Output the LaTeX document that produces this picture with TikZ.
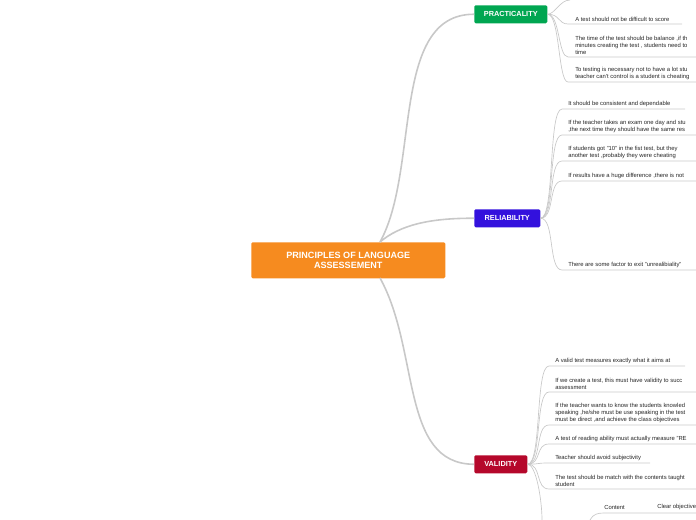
\documentclass[tikz,border=0pt]{standalone}
\usepackage{fontspec}
\setmainfont{Liberation Sans}
\definecolor{orangec}{HTML}{F68B1F}
\definecolor{greenc}{HTML}{00A651}
\definecolor{bluec}{HTML}{3311DD}
\definecolor{redc}{HTML}{B5082B}
\definecolor{linec}{HTML}{C8C8C8}
\tikzset{
  topic/.style={fill=#1, text=white, font=\fontsize{5.5}{6}\selectfont\bfseries, rounded corners=1pt, inner sep=0pt, anchor=north west},
  leaf/.style={font=\fontsize{4.4}{5.3}\selectfont, align=left, anchor=south west, inner sep=0pt, text=black!85},
  branch/.style={draw=linec, line width=0.5pt},
}
\begin{document}
\begin{tikzpicture}[x=0.75pt,y=-0.75pt]
\useasboundingbox (0,0) rectangle (696,520);
\node[fill=orangec, text=white, font=\fontsize{6.8}{8}\selectfont\bfseries, align=center, minimum width=194*0.75pt, minimum height=36*0.75pt, inner sep=0pt, anchor=north west, rounded corners=1pt] (root) at (251,242) {PRINCIPLES OF LANGUAGE\\ ASSESSEMENT};
\node[topic=greenc, minimum width=73*0.75pt, minimum height=18*0.75pt] (prac) at (474,5) {PRACTICALITY};
\node[topic=bluec, minimum width=66*0.75pt, minimum height=18*0.75pt] (rel) at (474,209) {RELIABILITY};
\node[topic=redc, minimum width=53*0.75pt, minimum height=18*0.75pt] (val) at (474,455) {VALIDITY};
% main branches
\draw[branch, line width=1.2pt] (380,242) .. controls (420,170) and (390,14) .. (prac.west);
\draw[branch, line width=1.2pt] (380,242) .. controls (400,225) and (430,218) .. (rel.west);
\draw[branch, line width=1.2pt] (380,278) .. controls (420,350) and (400,464) .. (val.west);
% practicality
\coordinate (p0) at (570,0);
\draw[branch] (prac.east) .. controls (555,14) and (560,0) .. (p0);
\node[leaf] (p1) at (575,22) {A test should not be difficult to score};
\node[leaf] (p2) at (575,55) {The time of the test should be balance ,if th\\minutes creating the test , students need to\\time};
\node[leaf] (p3) at (575,80) {To testing is necessary not to have a lot stu\\teacher can't control is a student is cheating};
\foreach \n/\y/\e in {p1/24/682,p2/57/696,p3/82/696}{
  \draw[branch] (prac.east) .. controls (560,14) and (558,\y) .. (568,\y) -- (\e,\y);
}
% reliability
\node[leaf] (r1) at (568,107) {It should be consistent  and dependable};
\node[leaf] (r2) at (568,133) {If the teacher takes an exam one day and stu\\,the next time they should have the same res};
\node[leaf] (r3) at (568,159) {If students got  "10" in the fist test, but  they\\another test ,probably they were cheating};
\node[leaf] (r4) at (568,179) {If results have a huge difference ,there is not};
\node[leaf] (r5) at (568,268) {There are some factor to exit "unrealibiality"};
\foreach \n/\y/\e in {r1/109/685,r2/135/696,r3/161/696,r4/181/696,r5/270/696}{
  \draw[branch] (rel.east) .. controls (555,218) and (548,\y) .. (562,\y) -- (\e,\y);
}
% validity
\node[leaf] (v1) at (555,364) {A valid test measures exactly what it aims at};
\node[leaf] (v2) at (555,390) {If we create a test, this must have validity to succ\\assessment};
\node[leaf] (v3) at (555,423) {If the teacher wants to know the students knowled\\speaking ,he/she must be use speaking in the test\\must be direct ,and achieve the class objectives};
\node[leaf] (v4) at (555,442) {A test of reading ability must actually measure "RE};
\node[leaf] (v5) at (555,461) {Teacher should avoid subjectivity};
\node[leaf] (v6) at (555,487) {The test should be match with the contents taught\\student};
\foreach \n/\y/\e in {v1/366/685,v2/392/696,v3/425/696,v4/444/696,v5/463/650,v6/489/696}{
  \draw[branch] (val.east) .. controls (542,464) and (535,\y) .. (549,\y) -- (\e,\y);
}
\coordinate (v7) at (542,520);
\draw[branch] (val.east) .. controls (536,464) and (542,500) .. (v7);
\node[leaf] (c1) at (604,510) {Content};
\node[leaf] (c2) at (657,510) {Clear objective};
\coordinate (c0) at (590,520);
\draw[branch] (c0) .. controls (593,514) and (598,513) .. (604,513) -- (696,513);
\end{tikzpicture}
\end{document}
